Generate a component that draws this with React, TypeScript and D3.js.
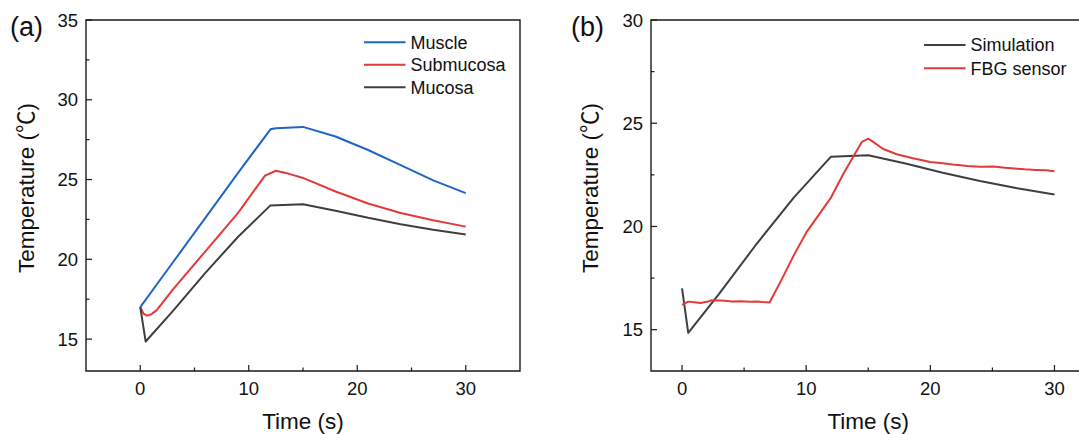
import * as d3 from "d3";

// ---- panel (a): tissue layers ----
const muscleT = [0, 3, 6, 9, 12, 12.5, 15, 18, 21, 24, 27, 30];
const muscleV = [17.0, 19.8, 22.6, 25.4, 28.15, 28.22, 28.3, 27.7, 26.85, 25.9, 24.95, 24.15];

const submucosaT = [0, 0.3, 0.6, 1, 1.5, 3, 6, 9, 11.5, 12.5, 13.5, 15, 18, 21, 24, 27, 30];
const submucosaV = [17.0, 16.6, 16.47, 16.55, 16.8, 18.1, 20.5, 22.9, 25.25, 25.55, 25.4, 25.1, 24.25, 23.5, 22.9, 22.45, 22.05];

const mucosaT = [0, 0.5, 3, 6, 9, 12, 15, 18, 21, 24, 27, 30];
const mucosaV = [17.0, 14.85, 16.75, 19.15, 21.4, 23.38, 23.45, 23.05, 22.6, 22.2, 21.85, 21.55];

// ---- panel (b): simulation vs FBG sensor ----
const simT = mucosaT;
const simV = mucosaV;

const fbgT = [0, 0.5, 1, 1.5, 2, 2.4, 3, 3.5, 4, 4.7, 5.5, 6, 6.5, 7.05, 8, 9, 10, 11, 12, 13, 14, 14.5, 15, 15.4, 16.2, 17.3, 18.6, 20, 21, 21.8, 23, 24, 25.1, 26, 27, 27.6, 28.5, 29.3, 30];
const fbgV = [16.2, 16.36, 16.33, 16.29, 16.35, 16.43, 16.42, 16.4, 16.37, 16.38, 16.36, 16.37, 16.34, 16.32, 17.4, 18.6, 19.7, 20.55, 21.4, 22.55, 23.6, 24.1, 24.25, 24.1, 23.75, 23.5, 23.3, 23.12, 23.06, 23.0, 22.93, 22.89, 22.9, 22.84, 22.8, 22.77, 22.74, 22.72, 22.67];

const xMajor = [0, 10, 20, 30];
const xMinor = [5, 15, 25];
const yMajorA = [15, 20, 25, 30, 35];
const yMinorA = [17.5, 22.5, 27.5, 32.5];
const yMajorB = [15, 20, 25, 30];
const yMinorB = [17.5, 22.5, 27.5];

const BLUE = "#1f66c4";
const RED = "#e23a3a";
const DARK = "#3f3f3f";
const FONT = "'Liberation Sans', Arial, 'Noto Sans CJK SC', sans-serif";

type Series = { name: string; t: number[]; v: number[]; color: string };

type PanelProps = {
  tag: string;
  tagX: number;
  x0: number;
  x1: number;
  xDomain: [number, number];
  yDomain: [number, number];
  yMajor: number[];
  yMinor: number[];
  series: Series[];
  legendX: number;
  legendY: number;
  legendGap: number;
  titleX: number;
};

function Panel(p: PanelProps) {
  const top = 20;
  const bottom = 371;
  const x = d3.scaleLinear().domain(p.xDomain).range([p.x0, p.x1]);
  const y = d3.scaleLinear().domain(p.yDomain).range([bottom, top]);
  const line = d3
    .line<[number, number]>()
    .x((d) => x(d[0]))
    .y((d) => y(d[1]));

  return (
    <g fontFamily={FONT} fill="#111">
      <text x={p.tagX} y={36} fontSize={27}>
        {p.tag}
      </text>

      {p.series.map((s) => (
        <path
          key={s.name}
          d={line(s.t.map((t, i) => [t, s.v[i]] as [number, number])) || ""}
          fill="none"
          stroke={s.color}
          strokeWidth={2}
          strokeLinejoin="round"
        />
      ))}

      {/* frame */}
      <path
        d={`M${p.x0},${top}V${bottom}H${p.x1}V${top}Z`}
        fill="none"
        stroke="#1a1a1a"
        strokeWidth={1.4}
      />

      {xMajor.map((t) => (
        <g key={"xM" + t}>
          <line x1={x(t)} x2={x(t)} y1={bottom} y2={bottom - 6} stroke="#1a1a1a" strokeWidth={1.2} />
          <text x={x(t)} y={bottom + 24} fontSize={18.5} textAnchor="middle">
            {t}
          </text>
        </g>
      ))}
      {xMinor.map((t) => (
        <line key={"xm" + t} x1={x(t)} x2={x(t)} y1={bottom} y2={bottom - 3.5} stroke="#1a1a1a" strokeWidth={1.2} />
      ))}
      {p.yMajor.map((v) => (
        <g key={"yM" + v}>
          <line x1={p.x0} x2={p.x0 + 6} y1={y(v)} y2={y(v)} stroke="#1a1a1a" strokeWidth={1.2} />
          <text x={p.x0 - 8} y={y(v)} dy="0.36em" fontSize={18.5} textAnchor="end">
            {v}
          </text>
        </g>
      ))}
      {p.yMinor.map((v) => (
        <line key={"ym" + v} x1={p.x0} x2={p.x0 + 3.5} y1={y(v)} y2={y(v)} stroke="#1a1a1a" strokeWidth={1.2} />
      ))}

      <text x={(p.x0 + p.x1) / 2} y={429} fontSize={22.5} textAnchor="middle">
        Time (s)
      </text>
      <text
        transform={`translate(${p.titleX},188) rotate(-90)`}
        fontSize={22.5}
        textAnchor="middle"
      >
        Temperature (℃)
      </text>

      {p.series.map((s, i) => {
        const ly = p.legendY + i * p.legendGap;
        return (
          <g key={"lg" + s.name}>
            <line x1={p.legendX} x2={p.legendX + 41.5} y1={ly} y2={ly} stroke={s.color} strokeWidth={2} />
            <text x={p.legendX + 46.5} y={ly} dy="0.36em" fontSize={18}>
              {s.name}
            </text>
          </g>
        );
      })}
    </g>
  );
}

export default function App() {
  const seriesA: Series[] = [
    { name: "Muscle", t: muscleT, v: muscleV, color: BLUE },
    { name: "Submucosa", t: submucosaT, v: submucosaV, color: RED },
    { name: "Mucosa", t: mucosaT, v: mucosaV, color: DARK },
  ];
  const seriesB: Series[] = [
    { name: "Simulation", t: simT, v: simV, color: DARK },
    { name: "FBG sensor", t: fbgT, v: fbgV, color: RED },
  ];
  return (
    <svg
      width={1079}
      height={434}
      style={{ position: "absolute", left: 0, top: 0, background: "#fff" }}
    >
      <Panel
        tag="(a)"
        tagX={10}
        x0={86}
        x1={520}
        xDomain={[-5, 35]}
        yDomain={[13, 35]}
        yMajor={yMajorA}
        yMinor={yMinorA}
        series={seriesA}
        legendX={364}
        legendY={42.3}
        legendGap={22.5}
        titleX={34}
      />
      <Panel
        tag="(b)"
        tagX={571}
        x0={651}
        x1={1085.5}
        xDomain={[-2.5, 32.5]}
        yDomain={[13, 30]}
        yMajor={yMajorB}
        yMinor={yMinorB}
        series={seriesB}
        legendX={924}
        legendY={45}
        legendGap={23.3}
        titleX={598}
      />
    </svg>
  );
}
